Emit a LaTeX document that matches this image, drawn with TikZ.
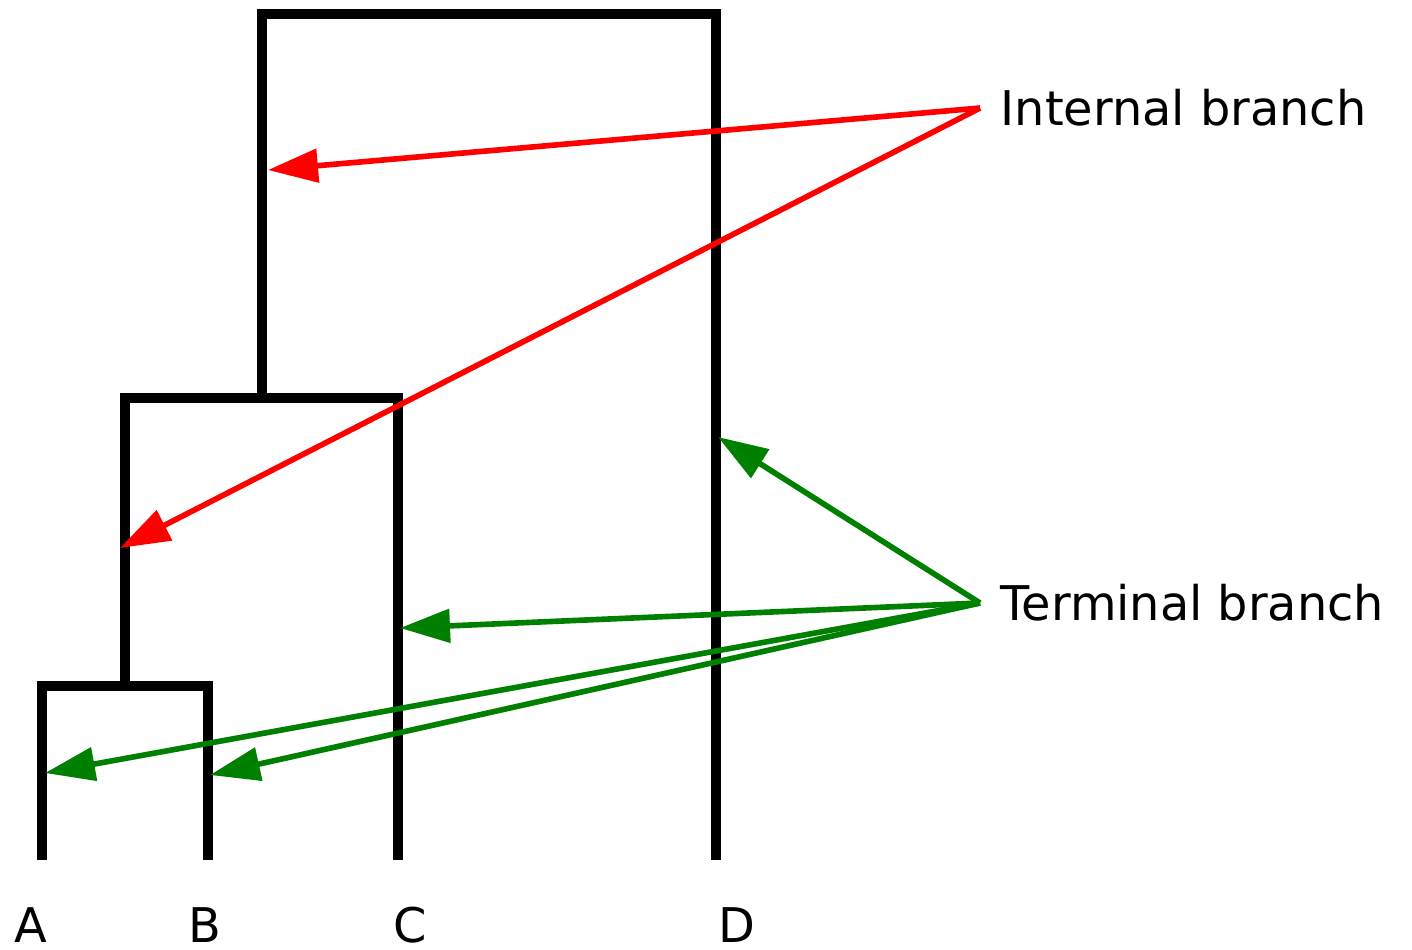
\documentclass[tikz,border=0pt]{standalone}
\usepackage{fontspec}
\setmainfont{DejaVu Sans}
\usetikzlibrary{arrows.meta}

\begin{document}
\begin{tikzpicture}[
    branch/.style={line width=3.1pt, line join=miter},
    pointer/.style={-{Triangle[length=5mm, width=3.3mm]}, line width=1.6pt},
    leaf/.style={anchor=base, inner sep=0pt, font=\fontsize{13.6}{16}\selectfont},
    note/.style={anchor=west, inner sep=0.2cm, font=\fontsize{13.6}{16}\selectfont}
]
\useasboundingbox (0,0) rectangle (14.12,-9.49);

% Tree corners
\coordinate (rootL) at (2.62,-0.14);
\coordinate (rootR) at (7.16,-0.14);
\coordinate (abc) at (2.62,-3.98);
\coordinate (abcL) at (1.25,-3.98);
\coordinate (abcR) at (3.98,-3.98);
\coordinate (ab) at (1.25,-6.86);
\coordinate (abL) at (0.42,-6.86);
\coordinate (abR) at (2.08,-6.86);
\coordinate (tipA) at (0.42,-8.60);
\coordinate (tipB) at (2.08,-8.60);
\coordinate (tipC) at (3.98,-8.60);
\coordinate (tipD) at (7.16,-8.60);

% Branches
\draw[branch] (tipA) -- (abL) -- (abR) -- (tipB);
\draw[branch] (ab) -- (abcL) -- (abcR) -- (tipC);
\draw[branch] (abc) -- (rootL) -- (rootR) -- (tipD);

% Leaf labels
\node[leaf] (A) at (0.31,-9.42) {A};
\node[leaf] (B) at (2.05,-9.42) {B};
\node[leaf] (C) at (4.10,-9.42) {C};
\node[leaf] (D) at (7.37,-9.42) {D};

% Labels on the right
\node[note] (internal) at (9.80,-1.08) {Internal branch};
\node[note] (terminal) at (9.80,-6.03) {Terminal branch};

% Arrow targets
\coordinate (inUpper) at (2.68,-1.70);
\coordinate (inLower) at (1.20,-5.48);
\coordinate (tD) at (7.18,-4.37);
\coordinate (tC) at (4.00,-6.28);
\coordinate (tA) at (0.45,-7.73);
\coordinate (tB) at (2.10,-7.75);

% Arrows
\draw[pointer, red] (internal.west) -- (inUpper);
\draw[pointer, red] (internal.west) -- (inLower);
\draw[pointer, green!50!black] (terminal.west) -- (tD);
\draw[pointer, green!50!black] (terminal.west) -- (tC);
\draw[pointer, green!50!black] (terminal.west) -- (tA);
\draw[pointer, green!50!black] (terminal.west) -- (tB);

\end{tikzpicture}
\end{document}
